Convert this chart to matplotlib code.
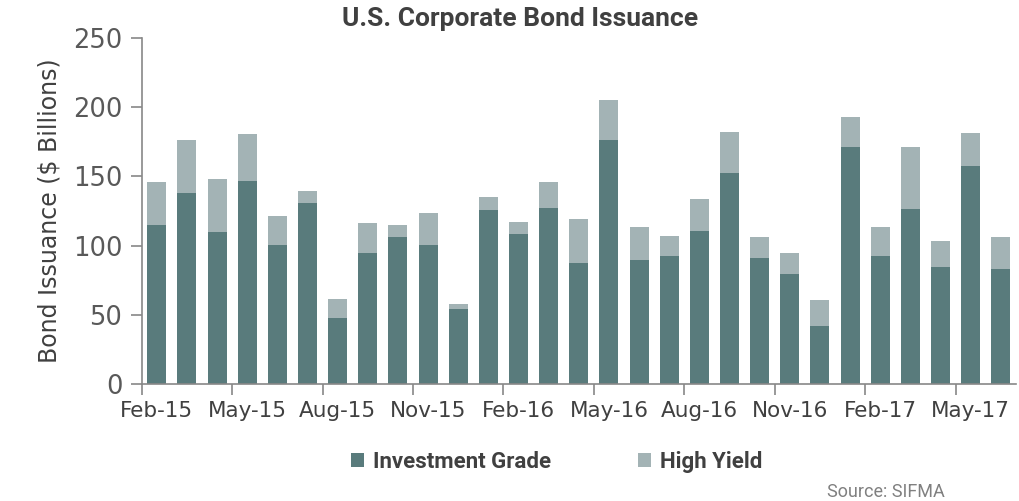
import numpy as np
import matplotlib
matplotlib.use("Agg")
import matplotlib.pyplot as plt

# Monthly issuance, $ billions (Feb-15 .. Jun-17)
months = ["Feb-15", "Mar-15", "Apr-15", "May-15", "Jun-15", "Jul-15", "Aug-15", "Sep-15",
          "Oct-15", "Nov-15", "Dec-15", "Jan-16", "Feb-16", "Mar-16", "Apr-16", "May-16",
          "Jun-16", "Jul-16", "Aug-16", "Sep-16", "Oct-16", "Nov-16", "Dec-16", "Jan-17",
          "Feb-17", "Mar-17", "Apr-17", "May-17", "Jun-17"]
investment_grade = [115.0, 137.7, 109.7, 146.8, 100.3, 131.1, 47.5, 94.7, 106.1, 100.3,
                    54.2, 125.4, 108.7, 127.3, 87.5, 176.5, 89.4, 92.3, 110.7, 152.4,
                    91.4, 79.3, 42.2, 171.2, 92.3, 126.3, 84.9, 157.2, 82.9]
total = [145.9, 176.2, 147.8, 181.0, 121.7, 139.3, 61.5, 116.2, 115.2, 123.4,
         57.6, 134.8, 116.9, 145.9, 119.1, 205.4, 113.3, 106.8, 133.6, 182.0,
         106.1, 95.0, 60.5, 193.1, 113.3, 171.2, 103.2, 181.3, 106.1]
high_yield = [t - ig for t, ig in zip(total, investment_grade)]

ig_color = "#597b7c"
hy_color = "#a3b3b5"
narrow = ["Roboto", "DejaVu Sans"]

fig = plt.figure(figsize=(10.2, 5.01), dpi=100)
ax = fig.add_axes([0.139, 0.2335, 0.857, 0.6905])

x = np.arange(len(months))
b1 = ax.bar(x, investment_grade, width=0.63, color=ig_color, label="Investment Grade")
b2 = ax.bar(x, high_yield, width=0.63, bottom=investment_grade, color=hy_color,
            label="High Yield")

ax.set_xlim(-0.5, len(months) - 0.5)
ax.set_ylim(0, 250)
ax.set_yticks(np.arange(0, 251, 50))

# labels centred on the month, tick marks on category boundaries
ax.set_xticks(x[::3])
ax.set_xticklabels(months[::3])
ax.set_xticks(x[::3] - 0.5, minor=True)
ax.tick_params(axis="x", which="major", length=0, pad=12, labelsize=15.5, labelcolor="#404040")
ax.tick_params(axis="x", which="minor", length=8, width=1.2, color="#888888")
ax.tick_params(axis="y", length=8, width=1.2, color="#888888", pad=6,
               labelsize=18.5, labelcolor="#595959")

for s in ["top", "right"]:
    ax.spines[s].set_visible(False)
for s in ["left", "bottom"]:
    ax.spines[s].set_color("#888888")
    ax.spines[s].set_linewidth(1.2)

ax.set_ylabel("Bond Issuance ($ Billions)", fontsize=17, color="#404040", labelpad=8)

fig.text(0.51, 0.962, "U.S. Corporate Bond Issuance", ha="center", va="center",
         fontsize=19, fontweight="bold", color="#404040", family=narrow)

fig.legend(handles=[b1, b2], loc="center", bbox_to_anchor=(0.546, 0.078), ncol=2,
           frameon=False, handlelength=0.6, handleheight=0.6, handletextpad=0.4,
           columnspacing=3.9, prop={"family": narrow, "weight": "bold", "size": 16},
           labelcolor="#404040")

fig.text(0.926, 0.018, "Source: SIFMA", ha="right", va="center", fontsize=13,
         color="#808080", family=narrow)

fig.savefig("out.png", dpi=100)
